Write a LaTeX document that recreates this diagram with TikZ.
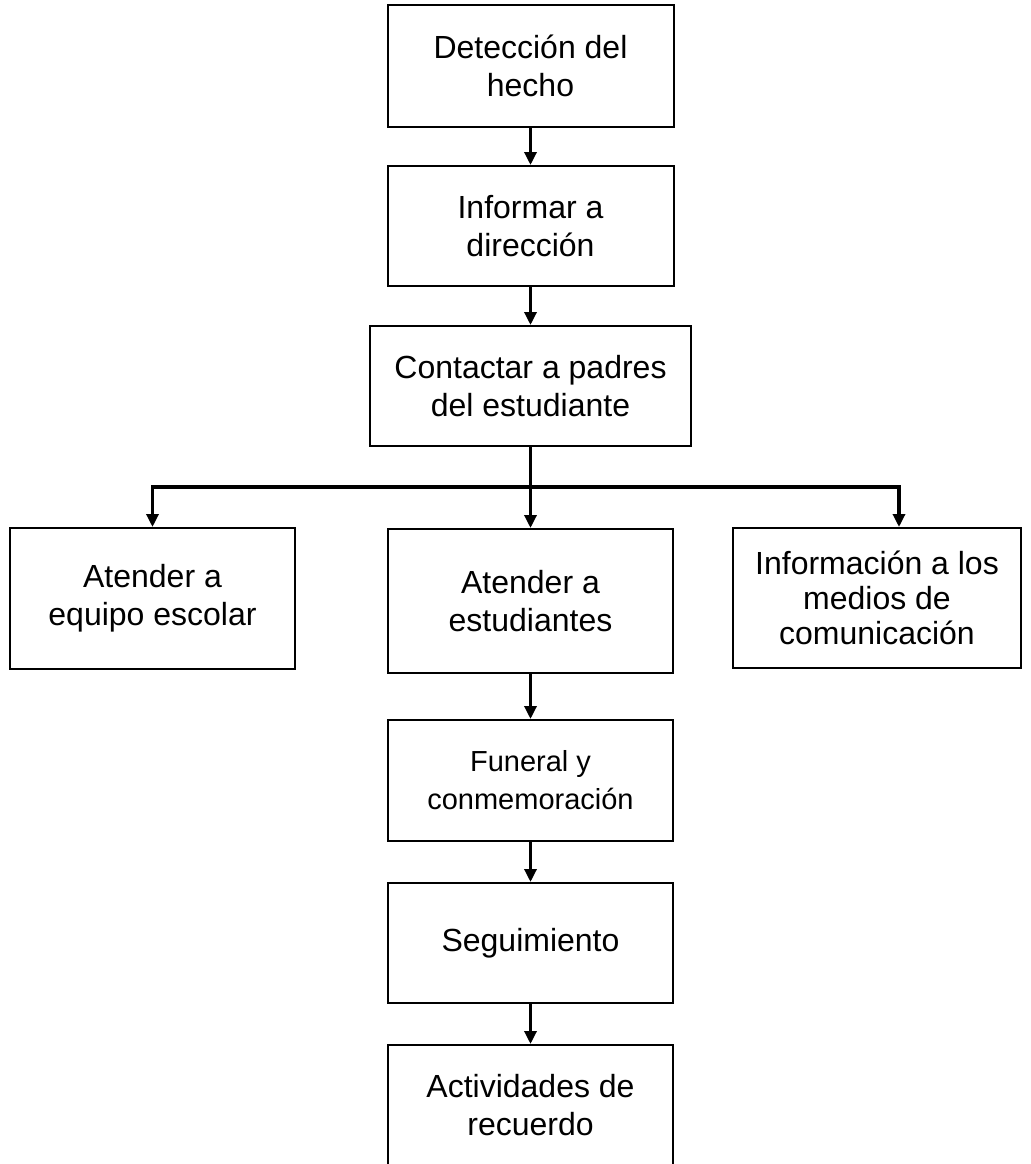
\documentclass[tikz,border=0pt]{standalone}
\usepackage{fontspec}
\setmainfont{Liberation Sans}
\usetikzlibrary{arrows.meta}

\begin{document}
\begin{tikzpicture}[x=0.5pt,y=-0.5pt]
        \tikzstyle{every node}+=[inner sep=0pt]
        \tikzstyle{paso}=[draw=black, line width=1pt, minimum width=143pt, minimum height=60pt, align=center, font=\fontsize{16}{19}\selectfont]
        \tikzstyle{flecha}=[line width=1.6pt, -{Triangle[width=6pt,length=6.5pt]}]
        \useasboundingbox (0,0) rectangle (1031,1164);
        \node [paso, minimum height=61pt] (deteccion) at (530.5,66) {Detección del\\hecho};
        \node [paso] (informar) at (530.5,226) {Informar a\\dirección};
        \node [paso, minimum width=160.5pt] (contactar) at (530.5,386) {Contactar a padres\\del estudiante};
        \node [paso, minimum width=142.5pt, minimum height=70.5pt] (equipo) at (152.5,598.5) {Atender a\\equipo escolar};
        \node [paso, minimum width=142.5pt, minimum height=72pt] (estudiantes) at (530.5,601) {Atender a\\estudiantes};
        \node [paso, minimum width=144pt, minimum height=70pt, font=\fontsize{16}{17.5}\selectfont] (medios) at (877,598) {Información a los\\medios de\\comunicación};
        \node [paso, minimum width=142.5pt, minimum height=60.5pt, font=\fontsize{14.5}{19}\selectfont] (funeral) at (530.5,780.5) {Funeral y\\conmemoración};
        \node [paso, minimum width=142.5pt] (seguimiento) at (530.5,943) {Seguimiento};
        \node [paso, minimum width=142.5pt] (recuerdo) at (530.5,1105) {Actividades de\\recuerdo};
        \coordinate (rama) at (530.5,487);
        \coordinate (ramader) at (899,487);
        \draw [flecha] (deteccion) -- (informar);
        \draw [flecha] (informar) -- (contactar);
        \draw [flecha] (contactar) -- (estudiantes);
        \draw [flecha] (rama) -| (equipo.north);
        \draw [flecha] (rama) -| (ramader |- medios.north);
        \draw [flecha] (estudiantes) -- (funeral);
        \draw [flecha] (funeral) -- (seguimiento);
        \draw [flecha] (seguimiento) -- (recuerdo);
\end{tikzpicture}
\end{document}
